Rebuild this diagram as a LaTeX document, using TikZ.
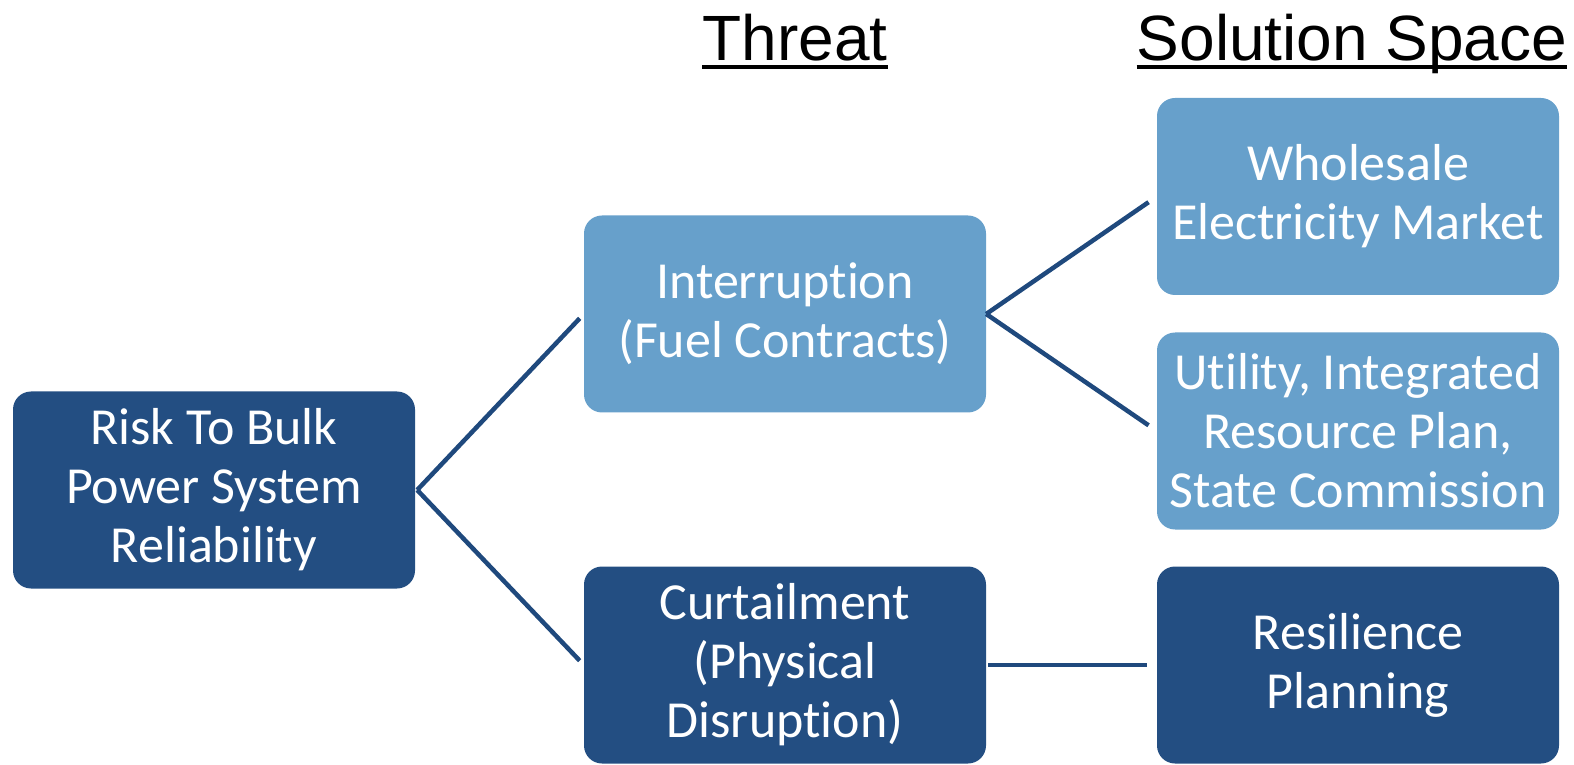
\documentclass[tikz,border=0pt]{standalone}
\usepackage{fontspec}
\setmainfont[Ligatures={NoCommon}]{Carlito}
\newfontfamily\headfont{Liberation Sans}
\definecolor{darkbox}{HTML}{234E82}
\definecolor{lightbox}{HTML}{67A0CB}
\definecolor{linkcol}{HTML}{1F497D}
\begin{document}
\begin{tikzpicture}[x=1pt,y=1pt,
  box/.style={rounded corners=18pt, minimum width=402pt, minimum height=197pt, inner sep=0pt,
    text=white, align=center, font=\fontsize{52}{59}\selectfont},
  darkb/.style={box, fill=darkbox},
  lightb/.style={box, fill=lightbox},
  link/.style={draw=linkcol, line width=4.5pt},
  head/.style={inner sep=0pt, anchor=base, font=\headfont\fontsize{64}{70}\selectfont},
  uline/.style={line width=4pt}]
\useasboundingbox (0,0) rectangle (1574,764);
\node[darkb] (root) at (214,274) {Risk To Bulk\\Power System\\Reliability};
\node[lightb] (intr) at (785,450) {Interruption\\(Fuel Contracts)};
\node[darkb] (curt) at (785,99) {Curtailment\\(Physical\\Disruption)};
\node[lightb] (whol) at (1358,567.5) {Wholesale\\Electricity Market};
\node[lightb] (util) at (1358,333) {Utility, Integrated\\Resource Plan,\\State Commission};
\node[darkb] (resi) at (1358,99) {Resilience\\Planning};
\node[head] (th) at (795,703) {Threat};
\node[head] (ss) at (1352,703) {Solution Space};
\draw[uline] ([yshift=-6pt]th.base west) -- ([yshift=-6pt]th.base east);
\draw[uline] ([yshift=-6pt]ss.base west) -- ([yshift=-6pt]ss.base east);
\draw[link, shorten >=6pt] ([xshift=2pt]root.east) -- (intr.west);
\draw[link, shorten >=6pt] ([xshift=2pt]root.east) -- (curt.west);
\draw[link, shorten >=10pt] (intr.east) -- (whol.west);
\draw[link, shorten >=10pt] (intr.east) -- (util.west);
\draw[link, shorten >=10pt, shorten <=2pt] (curt.east) -- (curt.east -| resi.west);
\end{tikzpicture}
\end{document}
